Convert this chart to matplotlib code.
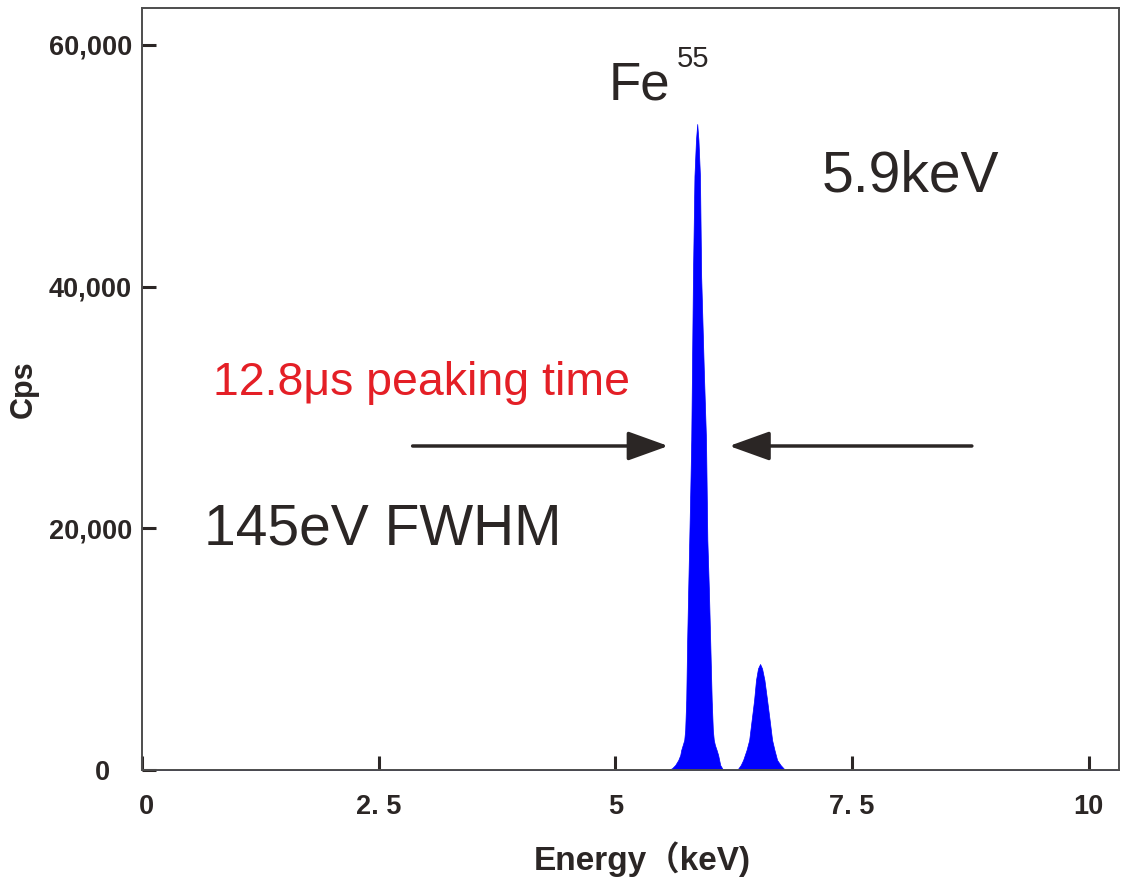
import matplotlib
matplotlib.use('Agg')
import matplotlib.pyplot as plt
import matplotlib.transforms as mtransforms
import numpy as np

# spectrum (keV, counts per second)
energy = [0.0, 5.40, 5.559, 5.600, 5.633, 5.665, 5.686, 5.696, 5.712, 5.728,
          5.738, 5.749, 5.759, 5.770, 5.781, 5.792, 5.802, 5.820, 5.836,
          5.852, 5.865, 5.878, 5.894, 5.907, 5.935, 5.958, 5.972, 5.988,
          6.002, 6.018, 6.030, 6.040, 6.052, 6.070, 6.086, 6.108, 6.139,
          6.20, 6.287, 6.325, 6.350, 6.386, 6.414, 6.440, 6.466, 6.486,
          6.507, 6.529, 6.550, 6.575, 6.603, 6.630, 6.656, 6.681, 6.709,
          6.745, 6.793, 10.32]
counts = [0, 0, 0, 150, 414, 828, 1241, 1655, 2069, 2483,
          3310, 5793, 10760, 15000, 19035, 23200, 27310, 40800, 49160,
          52140, 53460, 52140, 49160, 40800, 33000, 27310, 19035, 15000,
          10760, 5793, 3310, 2483, 2069, 1655, 1241, 414, 0,
          0, 0, 414, 828, 1655, 2483, 4138, 5793, 7448,
          8400, 8772, 8400, 7448, 5793, 4138, 2483, 1655, 828,
          414, 0, 0]

xticks = [0, 2.5, 5, 7.5, 10]
xtick_labels = ['0', '2. 5', '5', '7. 5', '10']
yticks = [0, 20000, 40000, 60000]
ytick_labels = ['0', '20,000', '40,000', '60,000']

ink = '#2b2625'
plt.rcParams['font.family'] = ['Liberation Sans', 'Noto Sans CJK SC', 'DejaVu Sans']

fig = plt.figure(figsize=(11.32, 8.77), dpi=100)
ax = fig.add_axes([0.1254, 0.122, 0.8631, 0.8689])

ax.fill_between(energy, counts, 0, color='#0000ff', lw=0.5)

ax.set_xlim(0, 10.32)
ax.set_ylim(0, 63060)
ax.set_xticks(xticks)
ax.set_xticklabels(xtick_labels, fontsize=19.5, fontweight='bold', color=ink)
ax.set_yticks(yticks)
ax.set_yticklabels(ytick_labels, fontsize=19.5, fontweight='bold', color=ink)
ax.tick_params(axis='both', direction='in', length=10, width=2.2, color=ink)
ax.tick_params(axis='x', pad=17)
ax.tick_params(axis='y', pad=7)
for s in ax.spines.values():
    s.set_color('#4d4d4d')
    s.set_linewidth(1.4)

# the zero labels sit a little off their ticks in the original
lab = ax.get_yticklabels()[0]
lab.set_transform(lab.get_transform() + mtransforms.ScaledTranslation(-0.22, 0, fig.dpi_scale_trans))
lab = ax.get_xticklabels()[0]
lab.set_transform(lab.get_transform() + mtransforms.ScaledTranslation(0.04, 0, fig.dpi_scale_trans))

ax.set_ylabel('Cps', fontsize=22, fontweight='bold', color=ink)
ax.yaxis.set_label_coords(-0.106, 0.5)
ax.set_xlabel('Energy（keV)', fontsize=24, fontweight='bold', color=ink)
ax.xaxis.set_label_coords(0.512, -0.093)

# annotations
ax.text(4.926, 55450, 'Fe', fontsize=38, color=ink, va='baseline')
ax.text(5.654, 58180, '55', fontsize=21, color=ink, va='baseline')
ax.text(7.184, 47835, '5.9keV', fontsize=41, color=ink, va='baseline')
ax.text(0.654, 18621, '145eV FWHM', fontsize=41, color=ink, va='baseline')
ax.text(0.749, 31035, '12.8μs peaking time', fontsize=33.5, color='#e41f26', va='baseline')

arrow = dict(arrowstyle='-|>,head_length=2.5,head_width=0.9', mutation_scale=10,
             lw=2.5, color=ink, shrinkA=0, shrinkB=0)
ax.annotate('', xy=(5.559, 26813), xytext=(2.859, 26813), arrowprops=arrow)
ax.annotate('', xy=(6.203, 26813), xytext=(8.766, 26813), arrowprops=arrow)

fig.savefig('out.png', dpi=100)
